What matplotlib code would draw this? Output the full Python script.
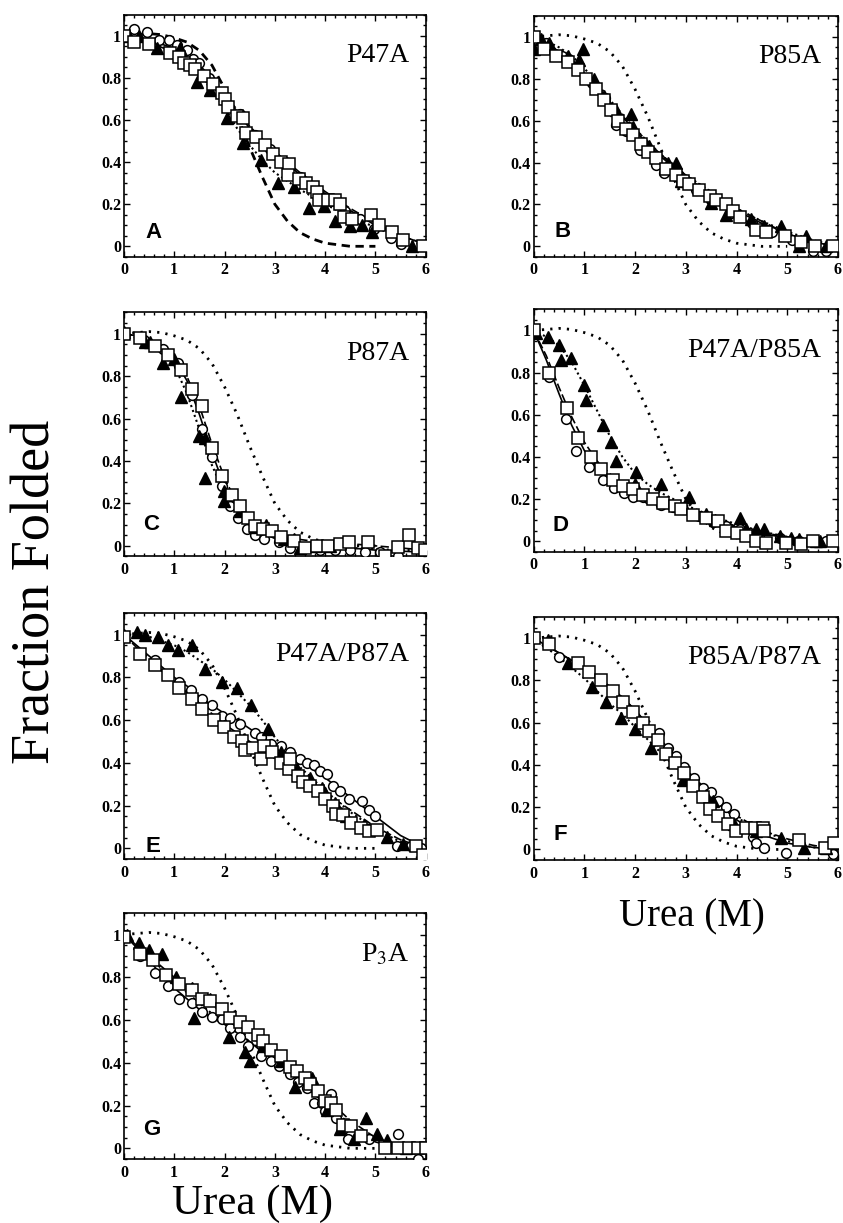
import matplotlib
matplotlib.use("Agg")
import matplotlib.pyplot as plt
from matplotlib.ticker import MultipleLocator

plt.rcParams['font.family'] = ['Liberation Serif', 'DejaVu Serif']
plt.rcParams['mathtext.fontset'] = 'stix'

# wild-type reference curve (same in every panel)
wt_x = [0, 0.25, 0.5, 0.75, 1, 1.25, 1.5, 1.75, 2, 2.25, 2.5, 2.75, 3, 3.25, 3.5, 3.75, 4, 4.5, 5]
wt_y = [1.0, 1.005, 1.01, 1.005, 0.99, 0.97, 0.93, 0.86, 0.75, 0.62, 0.47, 0.33, 0.2, 0.12, 0.065, 0.035, 0.015, 0.0, 0.0]

# urea grid used for the fitted curves
fit_x = [0, 0.25, 0.5, 0.75, 1, 1.25, 1.5, 1.75, 2, 2.25, 2.5, 2.75, 3, 3.5, 4, 4.5, 5, 5.5, 6]

# ---- A: P47A
a_circ_x = [0.2, 0.46, 0.7, 0.9, 1.05, 1.25, 1.38, 1.5, 1.7, 2.0, 2.3, 2.6, 2.9, 3.2, 3.5, 3.8, 4.1, 4.4, 4.7, 4.97, 5.3, 5.5]
a_circ_y = [1.03, 1.02, 0.98, 0.98, 0.955, 0.93, 0.89, 0.87, 0.8, 0.71, 0.63, 0.53, 0.46, 0.4, 0.33, 0.27, 0.22, 0.17, 0.13, 0.08, 0.04, 0.01]
a_sq_x = [0, 0.2, 0.49, 0.92, 1.09, 1.2, 1.32, 1.42, 1.59, 1.78, 1.94, 2.0, 2.07, 2.24, 2.37, 2.43, 2.63, 2.8, 2.96, 3.12,
          3.29, 3.26, 3.49, 3.62, 3.75, 3.84, 3.88, 4.05, 4.2, 4.3, 4.37, 4.54, 4.92, 5.07, 5.32, 5.54, 5.94]
a_sq_y = [1.0, 0.97, 0.96, 0.92, 0.9, 0.87, 0.86, 0.84, 0.81, 0.77, 0.73, 0.7, 0.66, 0.62, 0.61, 0.54, 0.52, 0.48, 0.44, 0.4,
          0.39, 0.34, 0.32, 0.3, 0.28, 0.26, 0.22, 0.22, 0.22, 0.2, 0.14, 0.13, 0.15, 0.1, 0.07, 0.03, 0.0]
a_tri_x = [0.1, 0.3, 0.65, 1.12, 1.45, 1.72, 2.05, 2.37, 2.73, 3.06, 3.39, 3.68, 3.98, 4.2, 4.5, 4.74, 4.94, 5.72]
a_tri_y = [1.0, 1.0, 0.94, 0.94, 0.78, 0.74, 0.61, 0.49, 0.41, 0.3, 0.28, 0.18, 0.19, 0.12, 0.095, 0.1, 0.07, 0.0]
a_fit_circ = [1.0, 0.99, 0.975, 0.96, 0.94, 0.9, 0.86, 0.8, 0.72, 0.64, 0.56, 0.5, 0.44, 0.34, 0.25, 0.17, 0.1, 0.05, 0.01]
a_fit_sq = [1.0, 0.98, 0.965, 0.945, 0.92, 0.89, 0.85, 0.79, 0.72, 0.65, 0.57, 0.51, 0.45, 0.35, 0.26, 0.18, 0.11, 0.05, 0.01]
a_fit_tri = [1.0, 0.99, 0.975, 0.95, 0.92, 0.87, 0.82, 0.74, 0.66, 0.56, 0.48, 0.41, 0.35, 0.27, 0.2, 0.14, 0.09, 0.04, 0.0]

# ---- B: P85A
b_circ_x = [0.25, 0.55, 0.85, 1.15, 1.4, 1.62, 1.82, 2.09, 2.41, 2.58, 2.9, 3.2, 3.5, 3.9, 4.3, 4.7, 5.1, 5.5, 5.77]
b_circ_y = [0.97, 0.91, 0.85, 0.78, 0.71, 0.58, 0.55, 0.46, 0.39, 0.35, 0.31, 0.27, 0.22, 0.16, 0.11, 0.07, 0.03, -0.02, -0.02]
b_sq_x = [0, 0.21, 0.44, 0.67, 0.87, 1.03, 1.23, 1.39, 1.53, 1.66, 1.82, 1.95, 2.12, 2.25, 2.41, 2.61, 2.81, 2.94, 3.07,
          3.27, 3.47, 3.6, 3.8, 3.93, 4.06, 4.39, 4.59, 4.95, 5.28, 5.54, 5.9]
b_sq_y = [1.0, 0.94, 0.91, 0.88, 0.84, 0.8, 0.75, 0.7, 0.65, 0.6, 0.56, 0.53, 0.49, 0.45, 0.42, 0.37, 0.34, 0.31, 0.3,
          0.27, 0.24, 0.22, 0.2, 0.17, 0.14, 0.08, 0.07, 0.05, 0.02, 0.0, 0.0]
b_tri_x = [0, 0.14, 0.31, 0.67, 0.9, 0.97, 1.2, 1.39, 1.62, 1.92, 1.95, 2.28, 2.64, 2.81, 2.91, 3.5, 3.8, 4.06, 4.29,
           4.55, 4.88, 5.24, 5.38, 5.77]
b_tri_y = [0.94, 0.99, 0.97, 0.91, 0.89, 0.94, 0.8, 0.72, 0.65, 0.63, 0.57, 0.48, 0.4, 0.4, 0.31, 0.205, 0.15, 0.15, 0.13,
           0.095, 0.095, 0.0, 0.05, 0.0]
b_fit_circ = [1.0, 0.97, 0.93, 0.88, 0.82, 0.76, 0.69, 0.62, 0.55, 0.49, 0.43, 0.38, 0.33, 0.25, 0.17, 0.11, 0.06, 0.02, 0.0]
b_fit_sq = [1.0, 0.965, 0.93, 0.88, 0.82, 0.76, 0.69, 0.62, 0.56, 0.5, 0.44, 0.39, 0.34, 0.26, 0.18, 0.12, 0.06, 0.02, 0.0]
b_fit_tri = [1.0, 0.98, 0.95, 0.91, 0.85, 0.78, 0.7, 0.63, 0.56, 0.5, 0.44, 0.39, 0.34, 0.26, 0.18, 0.12, 0.07, 0.03, 0.0]

# ---- C: P87A
c_circ_x = [0, 0.4, 0.78, 1.07, 1.36, 1.56, 1.75, 1.95, 2.11, 2.27, 2.44, 2.6, 2.79, 3.08, 3.31, 3.6, 3.9, 4.2, 4.5,
            4.8, 5.1, 5.44]
c_circ_y = [1.0, 0.97, 0.93, 0.86, 0.71, 0.55, 0.42, 0.28, 0.19, 0.13, 0.08, 0.05, 0.03, 0.016, -0.01, -0.01, -0.02,
            -0.02, -0.02, -0.03, -0.03, -0.05]
c_sq_x = [0, 0.32, 0.62, 0.88, 1.14, 1.36, 1.56, 1.75, 1.95, 2.14, 2.3, 2.47, 2.6, 2.76, 2.95, 3.12, 3.38, 3.6, 3.83,
          4.06, 4.29, 4.48, 4.86, 5.2, 5.44, 5.66, 5.84, 5.98]
c_sq_y = [1.0, 0.98, 0.94, 0.9, 0.83, 0.74, 0.66, 0.46, 0.33, 0.24, 0.19, 0.13, 0.095, 0.08, 0.07, 0.04, 0.024, -0.01,
          0.0, 0.0, 0.01, 0.02, 0.02, -0.05, -0.005, 0.05, -0.01, -0.02]
c_tri_x = [0, 0.42, 0.52, 0.78, 1.0, 1.14, 1.49, 1.62, 1.62, 1.98, 1.98, 2.3, 2.6, 2.82, 3.18, 3.38, 3.5, 3.8, 4.09]
c_tri_y = [1.01, 0.96, 0.96, 0.86, 0.88, 0.7, 0.52, 0.51, 0.32, 0.26, 0.21, 0.165, 0.09, 0.1, 0.03, 0.03, -0.01, 0.0, 0.0]
c_fit_circ = [1.0, 0.99, 0.97, 0.94, 0.88, 0.78, 0.62, 0.44, 0.28, 0.17, 0.1, 0.06, 0.035, 0.01, 0.0, -0.01, -0.02, -0.025, -0.03]
c_fit_sq = [1.0, 0.99, 0.97, 0.94, 0.89, 0.8, 0.66, 0.48, 0.32, 0.2, 0.12, 0.08, 0.05, 0.03, 0.015, 0.01, 0.0, -0.01, -0.02]
c_fit_tri = [1.0, 0.98, 0.96, 0.92, 0.85, 0.72, 0.55, 0.38, 0.25, 0.16, 0.1, 0.06, 0.04, 0.015, 0.0, -0.01, -0.015, -0.02, -0.02]

# ---- D: P47A/P85A
d_circ_x = [0, 0.31, 0.64, 0.84, 1.1, 1.36, 1.59, 1.79, 1.95, 2.15, 2.28, 2.51, 2.74, 2.94, 3.27, 3.53, 3.8, 4.06,
            4.26, 4.45, 4.85, 5.24, 5.5, 5.77]
d_circ_y = [1.0, 0.78, 0.58, 0.43, 0.35, 0.29, 0.25, 0.23, 0.21, 0.21, 0.2, 0.17, 0.16, 0.15, 0.12, 0.09, 0.07, 0.055,
            0.04, 0.03, 0.015, 0.0, 0.0, 0.0]
d_sq_x = [0, 0.3, 0.65, 0.87, 1.13, 1.33, 1.56, 1.76, 1.95, 2.15, 2.35, 2.55, 2.78, 2.91, 3.14, 3.4, 3.63, 3.8, 4.0,
          4.19, 4.39, 4.59, 4.98, 5.28, 5.5, 5.9]
d_sq_y = [1.0, 0.8, 0.63, 0.49, 0.4, 0.34, 0.29, 0.26, 0.246, 0.22, 0.2, 0.18, 0.165, 0.15, 0.125, 0.11, 0.095, 0.047,
          0.04, 0.024, 0.0, -0.008, -0.008, -0.016, 0.0, 0.0]
d_tri_x = [0.05, 0.28, 0.51, 0.54, 0.74, 1.0, 1.03, 1.36, 1.53, 1.62, 2.02, 1.99, 2.51, 3.07, 3.4, 3.57, 4.06, 4.19,
           4.39, 4.55, 4.85, 5.08, 5.24, 5.57, 5.64]
d_tri_y = [0.99, 0.97, 0.93, 0.86, 0.87, 0.74, 0.67, 0.55, 0.47, 0.38, 0.33, 0.27, 0.27, 0.21, 0.13, 0.1, 0.11, 0.055,
           0.055, 0.055, 0.024, 0.016, 0.01, 0.0, 0.0]
d_fit_circ = [1.0, 0.86, 0.7, 0.55, 0.43, 0.35, 0.29, 0.25, 0.22, 0.2, 0.18, 0.16, 0.14, 0.1, 0.065, 0.035, 0.015, 0.005, 0.0]
d_fit_sq = [1.0, 0.88, 0.73, 0.59, 0.47, 0.38, 0.32, 0.27, 0.24, 0.21, 0.19, 0.17, 0.15, 0.11, 0.07, 0.04, 0.02, 0.005, 0.0]
d_fit_tri = [1.0, 0.97, 0.93, 0.85, 0.74, 0.62, 0.5, 0.4, 0.32, 0.27, 0.23, 0.2, 0.17, 0.12, 0.08, 0.045, 0.02, 0.01, 0.0]

# ---- E: P47A/P87A
e_circ_x = [0.62, 1.1, 1.33, 1.56, 1.75, 1.95, 2.11, 2.3, 2.6, 2.73, 2.92, 3.12, 3.31, 3.51, 3.64, 3.77, 3.9, 4.03,
            4.16, 4.29, 4.48, 4.74, 4.87, 5.0, 5.42, 5.7, 5.9]
e_circ_y = [0.88, 0.78, 0.74, 0.7, 0.67, 0.62, 0.61, 0.58, 0.54, 0.52, 0.49, 0.48, 0.45, 0.42, 0.4, 0.39, 0.36, 0.35,
            0.29, 0.27, 0.23, 0.22, 0.18, 0.15, 0.01, 0.01, 0.0]
e_sq_x = [0, 0.32, 0.62, 0.88, 1.1, 1.36, 1.56, 1.79, 1.98, 2.18, 2.34, 2.4, 2.56, 2.73, 2.79, 2.95, 3.12, 3.28, 3.31,
          3.47, 3.57, 3.7, 3.86, 3.99, 4.16, 4.22, 4.35, 4.51, 4.71, 4.87, 5.03, 5.8, 5.95]
e_sq_y = [0.99, 0.91, 0.86, 0.81, 0.75, 0.7, 0.65, 0.6, 0.57, 0.52, 0.5, 0.46, 0.47, 0.42, 0.48, 0.45, 0.4, 0.37, 0.42,
          0.34, 0.31, 0.29, 0.27, 0.23, 0.2, 0.16, 0.155, 0.12, 0.093, 0.08, 0.085, 0.01, -0.03]
e_tri_x = [0, 0.26, 0.42, 0.68, 0.88, 1.07, 1.36, 1.62, 1.95, 2.24, 2.53, 2.86, 3.12, 3.44, 3.7, 3.93, 3.99, 4.19,
           4.42, 4.77, 5.23, 5.55]
e_tri_y = [1.0, 1.01, 1.0, 0.99, 0.95, 0.93, 0.95, 0.84, 0.78, 0.75, 0.67, 0.56, 0.45, 0.37, 0.33, 0.28, 0.26, 0.21,
           0.15, 0.11, 0.055, 0.02]
e_fit_circ = [1.0, 0.95, 0.9, 0.85, 0.8, 0.76, 0.71, 0.67, 0.63, 0.6, 0.56, 0.52, 0.48, 0.41, 0.33, 0.24, 0.15, 0.06, 0.0]
e_fit_sq = [1.0, 0.94, 0.89, 0.83, 0.78, 0.73, 0.68, 0.63, 0.58, 0.54, 0.5, 0.46, 0.42, 0.34, 0.26, 0.18, 0.1, 0.04, 0.0]
e_fit_tri = [1.0, 1.0, 0.99, 0.97, 0.95, 0.92, 0.88, 0.84, 0.79, 0.73, 0.67, 0.6, 0.52, 0.38, 0.27, 0.17, 0.09, 0.03, 0.0]

# ---- F: P85A/P87A
f_circ_x = [0.5, 2.48, 2.65, 2.81, 2.97, 3.17, 3.34, 3.5, 3.63, 3.8, 3.96, 4.32, 4.39, 4.55, 4.98, 5.9]
f_circ_y = [0.91, 0.55, 0.48, 0.44, 0.39, 0.34, 0.29, 0.27, 0.23, 0.2, 0.17, 0.06, 0.03, 0.008, -0.016, -0.02]
f_sq_x = [0, 0.31, 0.87, 1.1, 1.33, 1.56, 1.76, 1.95, 2.15, 2.28, 2.45, 2.61, 2.78, 2.97, 3.14, 3.34, 3.47, 3.63,
          3.83, 3.99, 4.19, 4.36, 4.52, 4.55, 5.24, 5.74, 5.93]
f_sq_y = [1.0, 0.97, 0.88, 0.84, 0.8, 0.75, 0.7, 0.65, 0.6, 0.56, 0.52, 0.45, 0.41, 0.36, 0.3, 0.25, 0.19, 0.16, 0.12,
          0.085, 0.1, 0.1, 0.1, 0.085, 0.047, 0.008, 0.03]
f_tri_x = [0.28, 0.67, 1.16, 1.43, 1.72, 1.99, 2.32, 2.94, 3.4, 3.53, 3.96, 4.39, 4.88, 5.34, 5.77]
f_tri_y = [0.99, 0.88, 0.77, 0.7, 0.62, 0.57, 0.48, 0.33, 0.26, 0.23, 0.12, 0.086, 0.055, 0.008, 0.008]
f_fit_circ = [1.0, 0.965, 0.93, 0.895, 0.86, 0.82, 0.77, 0.72, 0.66, 0.59, 0.52, 0.45, 0.38, 0.25, 0.14, 0.07, 0.03, 0.01, 0.0]
f_fit_sq = [1.0, 0.965, 0.93, 0.895, 0.86, 0.82, 0.77, 0.72, 0.66, 0.59, 0.52, 0.45, 0.38, 0.26, 0.16, 0.09, 0.05, 0.02, 0.0]
f_fit_tri = [1.0, 0.955, 0.91, 0.86, 0.81, 0.75, 0.69, 0.64, 0.58, 0.52, 0.46, 0.4, 0.35, 0.24, 0.15, 0.09, 0.04, 0.01, 0.0]

# ---- G: P3A
g_circ_x = [0, 0.32, 0.62, 0.88, 1.1, 1.36, 1.56, 1.75, 1.95, 2.11, 2.3, 2.47, 2.73, 2.92, 3.08, 3.31, 3.47, 3.64,
            3.77, 3.93, 3.99, 4.12, 4.22, 4.35, 4.45, 4.87, 5.44, 5.84]
g_circ_y = [1.0, 0.9, 0.82, 0.76, 0.7, 0.68, 0.64, 0.615, 0.605, 0.565, 0.52, 0.48, 0.43, 0.41, 0.385, 0.35, 0.31,
            0.28, 0.21, 0.21, 0.175, 0.255, 0.14, 0.09, 0.045, 0.045, 0.065, -0.05]
g_sq_x = [0, 0.32, 0.58, 0.84, 1.1, 1.36, 1.56, 1.72, 1.95, 2.11, 2.3, 2.47, 2.66, 2.76, 2.92, 3.12, 3.31, 3.44, 3.6,
          3.7, 3.86, 3.99, 4.12, 4.22, 4.35, 4.51, 4.71, 5.2, 5.44, 5.66, 5.84, 6.0]
g_sq_y = [0.99, 0.91, 0.88, 0.81, 0.77, 0.74, 0.7, 0.69, 0.65, 0.61, 0.59, 0.57, 0.53, 0.5, 0.46, 0.43, 0.38, 0.36,
          0.33, 0.3, 0.27, 0.22, 0.21, 0.18, 0.11, 0.105, 0.06, 0.0, 0.0, 0.0, 0.0, 0.0]
g_tri_x = [0.06, 0.29, 0.49, 0.75, 1.04, 1.36, 1.72, 1.4, 2.08, 2.4, 2.5, 2.76, 3.12, 3.41, 3.73, 4.03, 4.29, 4.58,
           4.81, 5.04, 5.24, 5.6]
g_tri_y = [1.0, 0.96, 0.93, 0.91, 0.8, 0.75, 0.7, 0.61, 0.52, 0.45, 0.41, 0.48, 0.41, 0.285, 0.33, 0.18, 0.09, 0.045,
           0.14, 0.065, 0.04, 0.0]
g_fit_circ = [1.0, 0.94, 0.88, 0.81, 0.75, 0.7, 0.65, 0.61, 0.58, 0.54, 0.5, 0.45, 0.41, 0.31, 0.21, 0.1, 0.03, 0.0, 0.0]
g_fit_sq = [1.0, 0.95, 0.9, 0.85, 0.8, 0.75, 0.71, 0.67, 0.63, 0.58, 0.54, 0.49, 0.45, 0.35, 0.24, 0.13, 0.05, 0.01, 0.0]
g_fit_tri = [1.0, 0.95, 0.9, 0.84, 0.78, 0.73, 0.68, 0.63, 0.59, 0.54, 0.5, 0.46, 0.42, 0.32, 0.22, 0.11, 0.04, 0.01, 0.0]

names = ["P47A", "P85A", "P87A", "P47A/P85A", "P47A/P87A", "P85A/P87A", "P$_3$A"]
letters = ["A", "B", "C", "D", "E", "F", "G"]

panels = [
    (a_circ_x, a_circ_y, a_sq_x, a_sq_y, a_tri_x, a_tri_y, a_fit_circ, a_fit_sq, a_fit_tri),
    (b_circ_x, b_circ_y, b_sq_x, b_sq_y, b_tri_x, b_tri_y, b_fit_circ, b_fit_sq, b_fit_tri),
    (c_circ_x, c_circ_y, c_sq_x, c_sq_y, c_tri_x, c_tri_y, c_fit_circ, c_fit_sq, c_fit_tri),
    (d_circ_x, d_circ_y, d_sq_x, d_sq_y, d_tri_x, d_tri_y, d_fit_circ, d_fit_sq, d_fit_tri),
    (e_circ_x, e_circ_y, e_sq_x, e_sq_y, e_tri_x, e_tri_y, e_fit_circ, e_fit_sq, e_fit_tri),
    (f_circ_x, f_circ_y, f_sq_x, f_sq_y, f_tri_x, f_tri_y, f_fit_circ, f_fit_sq, f_fit_tri),
    (g_circ_x, g_circ_y, g_sq_x, g_sq_y, g_tri_x, g_tri_y, g_fit_circ, g_fit_sq, g_fit_tri),
]

rects = [
    [0.147, 0.790, 0.358, 0.198],
    [0.633, 0.790, 0.361, 0.197],
    [0.147, 0.545, 0.358, 0.1995],
    [0.633, 0.549, 0.361, 0.198],
    [0.147, 0.2976, 0.358, 0.201],
    [0.633, 0.2968, 0.361, 0.1987],
    [0.147, 0.0523, 0.358, 0.201],
]
letter_pos = [(0.07, 0.079), (0.069, 0.083), (0.063, 0.11), (0.063, 0.087), (0.07, 0.03), (0.066, 0.082), (0.063, 0.098)]

fig = plt.figure(figsize=(8.43, 12.23), dpi=100)

for i, (cx, cy, sx, sy, tx, ty, fc, fs, ft) in enumerate(panels):
    ax = fig.add_axes(rects[i])

    # wild-type reference
    if i == 0:
        ax.plot(wt_x, wt_y, color="black", lw=2.0, linestyle=(0, (3, 2)), zorder=2)
    else:
        ax.plot(wt_x, wt_y, color="black", lw=2.0, linestyle=(0, (0.8, 2.2)), zorder=2)

    # fitted curves
    ax.plot(fit_x, fc, color="black", lw=1.2, zorder=2)
    ax.plot(fit_x, fs, color="black", lw=1.2, linestyle=(0, (5, 2)), zorder=2)
    ax.plot(fit_x, ft, color="black", lw=1.5, linestyle=(0, (1, 1.5)), zorder=2)

    # data
    ax.plot(cx, cy, "o", ms=7, mfc="white", mec="black", mew=1.1, zorder=3)
    ax.plot(tx, ty, "^", ms=8, mfc="black", mec="black", mew=1.0, zorder=4)
    ax.plot(sx, sy, "s", ms=8.5, mfc="white", mec="black", mew=1.1, zorder=5)

    ax.set_xlim(0, 6)
    ax.set_ylim(-0.05, 1.1)
    ax.xaxis.set_minor_locator(MultipleLocator(0.2))
    ax.yaxis.set_minor_locator(MultipleLocator(0.05))
    ax.set_yticks([0, 0.2, 0.4, 0.6, 0.8, 1.0])
    ax.set_yticklabels(["0", "0.2", "0.4", "0.6", "0.8", "1"], fontweight="bold", fontsize=11.5)
    ax.set_xticks([0, 1, 2, 3, 4, 5, 6])
    ax.set_xticklabels(["0", "1", "2", "3", "4", "5", "6"], fontweight="bold", fontsize=11.5)
    ax.tick_params(which="both", direction="in", top=True, right=True, width=1.0)
    ax.tick_params(which="major", length=4)
    ax.tick_params(which="minor", length=2)
    ax.tick_params(axis="y", pad=2)
    ax.tick_params(axis="x", pad=4)
    for sp in ax.spines.values():
        sp.set_linewidth(1.2)

    ax.text(0.945, 0.805, names[i], transform=ax.transAxes, ha="right", va="baseline", fontsize=20)
    lx, ly = letter_pos[i]
    ax.text(lx, ly, letters[i], transform=ax.transAxes, ha="left", va="baseline",
            fontsize=16, fontweight="bold", family=["Liberation Sans", "DejaVu Sans"])

fig.text(0.043, 0.516, "Fraction Folded", rotation=90, ha="center", va="center", fontsize=39)
fig.text(0.821, 0.25, "Urea (M)", ha="center", va="center", fontsize=28)
fig.text(0.30, 0.0075, "Urea (M)", ha="center", va="baseline", fontsize=31)

fig.savefig("out.png", dpi=100)
